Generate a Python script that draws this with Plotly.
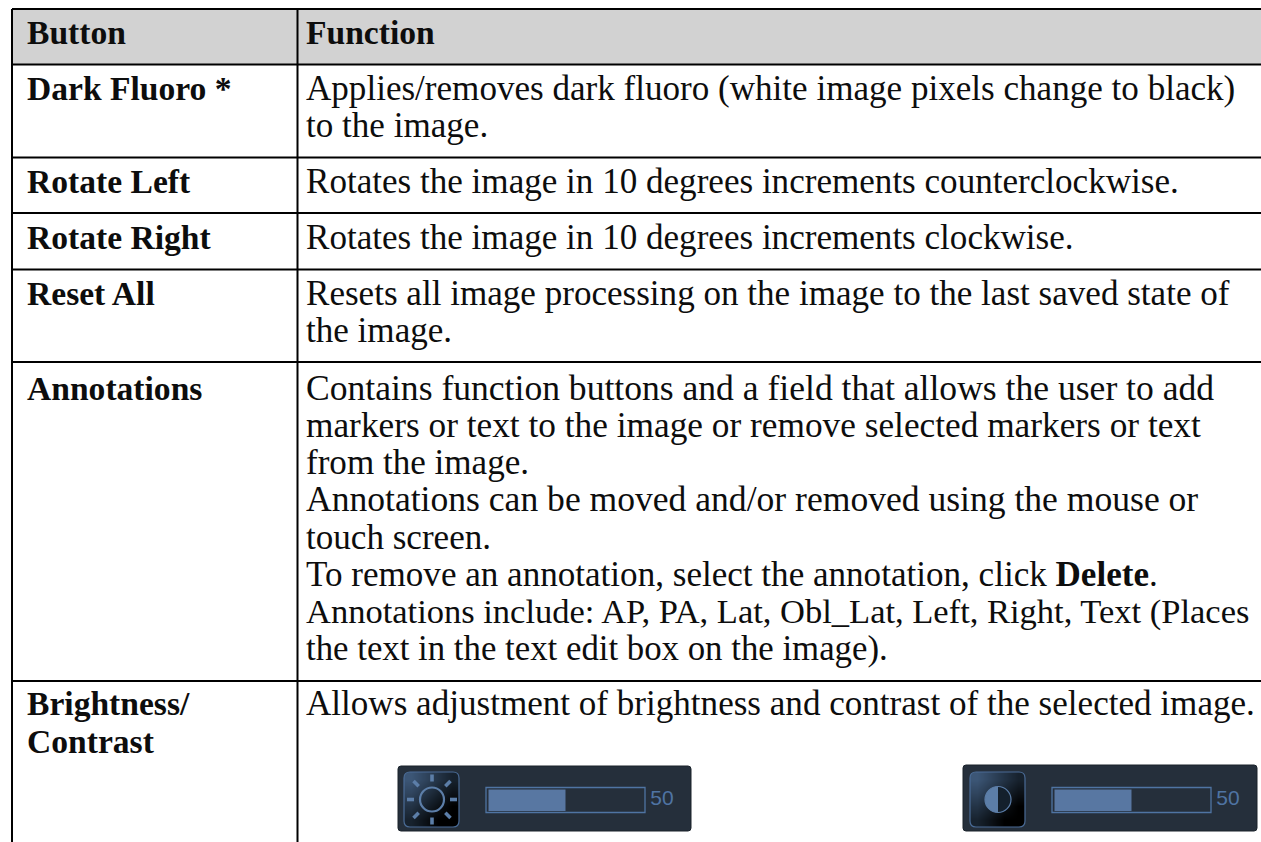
import plotly.graph_objects as go

# ---- table content ----
HEADERS = ["Button", "Function"]
BUTTONS = [["Dark Fluoro *"], ["Rotate Left"], ["Rotate Right"], ["Reset All"], ["Annotations"], ["Brightness/", "Contrast"]]
FUNCTIONS = [
    ["Applies/removes dark fluoro (white image pixels change to black)", "to the image."],
    ["Rotates the image in 10 degrees increments counterclockwise."],
    ["Rotates the image in 10 degrees increments clockwise."],
    ["Resets all image processing on the image to the last saved state of", "the image."],
    ["Contains function buttons and a field that allows the user to add",
     "markers or text to the image or remove selected markers or text",
     "from the image.",
     "Annotations can be moved and/or removed using the mouse or",
     "touch screen.",
     "To remove an annotation, select the annotation, click <b>Delete</b>.",
     "Annotations include: AP, PA, Lat, Obl_Lat, Left, Right, Text (Places",
     "the text in the text edit box on the image)."],
    ["Allows adjustment of brightness and contrast of the selected image."],
]
SLIDER_VALUES = [50, 50]

# ---- layout ----
W, H = 1261, 842
LEFT, COL, TOP = 12, 297.5, 9
RULES_Y = [64.5, 157.5, 213, 269.5, 362, 681]
BASELINES = [46, 101.3, 195, 250.7, 306.7, 401.7, 717]
LH = 37.15
X1, X2 = 27, 306
FONT = "'Liberation Serif',serif"
FS, FS_BOLD = 35.1, 33.6
# lines whose width in this substitute font needs a small correction
LINE_FS = {4: {0: 35.6, 1: 35.3, 3: 35.6, 6: 34.5, 7: 34.8}}
INK = "#0d0d0d"
PANELS = [
    dict(x0=398, x1=691, y0=766, y1=831, bx0=404, trk0=486, trk1=645, num=662),
    dict(x0=963, x1=1257, y0=765, y1=831, bx0=970, trk0=1052, trk1=1211, num=1228),
]
PANEL_C, BLUE, FILL, BTN_BORDER = "#252f3b", "#4f74a3", "#5877a2", "#4a6b96"
BASE_SHIFT = 0.3  # plotly places a middle-anchored text baseline 0.3 em below y


def rrect(x0, y0, x1, y1, r):
    return (f"M{x0+r},{y0} L{x1-r},{y0} Q{x1},{y0} {x1},{y0+r} L{x1},{y1-r} Q{x1},{y1} {x1-r},{y1} "
            f"L{x0+r},{y1} Q{x0},{y1} {x0},{y1-r} L{x0},{y0+r} Q{x0},{y0} {x0+r},{y0} Z")


shapes = [
    dict(type="rect", x0=LEFT, x1=W + 2, y0=TOP, y1=RULES_Y[0], fillcolor="#d2d2d2", line_width=0, layer="below"),
    dict(type="line", x0=LEFT, x1=W + 2, y0=TOP, y1=TOP, line=dict(color="black", width=2.2)),
    dict(type="line", x0=LEFT, x1=LEFT, y0=TOP, y1=H + 2, line=dict(color="black", width=2)),
    dict(type="line", x0=COL, x1=COL, y0=TOP, y1=H + 2, line=dict(color="black", width=2)),
]
for y in RULES_Y:
    shapes.append(dict(type="line", x0=LEFT, x1=W + 2, y0=y, y1=y, line=dict(color="black", width=2)))

fig = go.Figure()

# table text
bx, by, bt = [X1, X2], [BASELINES[0] - BASE_SHIFT * FS_BOLD] * 2, [f"<b>{h}</b>" for h in HEADERS]
xs, ys, txt, sizes = [], [], [], []
for i, (b, f) in enumerate(zip(BUTTONS, FUNCTIONS)):
    b0 = BASELINES[i + 1]
    for j, line in enumerate(b):
        bx.append(X1); by.append(b0 + j * 37.7 - BASE_SHIFT * FS_BOLD); bt.append(f"<b>{line}</b>")
    for j, line in enumerate(f):
        size = LINE_FS.get(i, {}).get(j, FS)
        xs.append(X2); ys.append(b0 + j * LH - BASE_SHIFT * size); txt.append(line); sizes.append(size)
fig.add_trace(go.Scatter(x=bx, y=by, text=bt, mode="text", textposition="middle right",
                         textfont=dict(family=FONT, size=FS_BOLD, color=INK), hoverinfo="skip", cliponaxis=False))
fig.add_trace(go.Scatter(x=xs, y=ys, text=txt, mode="text", textposition="middle right",
                         textfont=dict(family=FONT, size=sizes, color=INK), hoverinfo="skip", cliponaxis=False))

# slider widgets
for p, v in zip(PANELS, SLIDER_VALUES):
    shapes.append(dict(type="path", path=rrect(p["x0"], p["y0"], p["x1"], p["y1"], 3), fillcolor=PANEL_C,
                       line=dict(color="#1a222b", width=1), layer="below"))
    bx0, bx1, by0, by1 = p["bx0"], p["bx0"] + 55, 772, 827
    step = 55 / 4
    fig.add_trace(go.Heatmap(x=[bx0 + step * (k + .5) for k in range(4)], y=[by0 + step * (k + .5) for k in range(4)],
                             z=[[5, 4, 3, 2], [4, 3, 2, 1], [3, 2, 1, 0], [2, 1, 0, 0]], zsmooth="best", showscale=False,
                             colorscale=[[0, "#000000"], [0.4, "#17222e"], [1, "#3c5676"]], hoverinfo="skip"))
    r = 6
    for cxn, cyn, sx, sy in [(bx0, by0, 1, 1), (bx1, by0, -1, 1), (bx0, by1, 1, -1), (bx1, by1, -1, -1)]:
        shapes.append(dict(type="path", path=f"M{cxn},{cyn} L{cxn+sx*r},{cyn} Q{cxn},{cyn} {cxn},{cyn+sy*r} Z",
                           fillcolor=PANEL_C, line_width=0))
    shapes.append(dict(type="path", path=rrect(bx0, by0, bx1, by1, r), line=dict(color=BTN_BORDER, width=1.2),
                       fillcolor="rgba(0,0,0,0)"))
    t0, t1 = p["trk0"], p["trk1"]
    shapes.append(dict(type="rect", x0=t0, x1=t1, y0=787.5, y1=812.5, line=dict(color=BLUE, width=1.3),
                       fillcolor="rgba(0,0,0,0)"))
    inner0, inner1 = t0 + 2.5, t1 - 2.5
    shapes.append(dict(type="rect", x0=inner0, x1=inner0 + (inner1 - inner0) * v / 100, y0=789.5, y1=811,
                       fillcolor=FILL, line_width=0))
    fig.add_trace(go.Scatter(x=[p["num"]], y=[800], text=[str(v)], mode="text", textposition="middle center",
                             textfont=dict(family="'Liberation Sans',Arial,sans-serif", size=21, color=BLUE), hoverinfo="skip"))

# brightness icon
cx, cy = 432, 799.5
shapes.append(dict(type="circle", x0=cx - 12, x1=cx + 12, y0=cy - 12, y1=cy + 12, line=dict(color="#5c7ea8", width=2.2),
                   fillcolor="rgba(0,0,0,0)"))
for dx, dy in [(0, -1), (0, 1), (1, 0), (-1, 0), (.74, -.74), (-.74, -.74), (.74, .74), (-.74, .74)]:
    shapes.append(dict(type="line", x0=cx + dx * 18, y0=cy + dy * 18, x1=cx + dx * 25, y1=cy + dy * 25,
                       line=dict(color="#5c7ea8", width=3.6)))
# contrast icon
cx, cy = 998, 799.5
R = 13
K = R * 0.5523
shapes.append(dict(type="circle", x0=cx - R, x1=cx + R, y0=cy - R, y1=cy + R, line=dict(color="#5c7ea8", width=1.2),
                   fillcolor="#14202c"))
shapes.append(dict(type="path",
                   path=f"M{cx},{cy-R} C{cx-K},{cy-R} {cx-R},{cy-K} {cx-R},{cy} C{cx-R},{cy+K} {cx-K},{cy+R} {cx},{cy+R} Z",
                   fillcolor="#5c7ea8", line_width=0))

fig.update_layout(
    width=W, height=H, margin=dict(l=0, r=0, t=0, b=0), paper_bgcolor="white", plot_bgcolor="white",
    showlegend=False, shapes=shapes,
    xaxis=dict(range=[0, W], visible=False, fixedrange=True),
    yaxis=dict(range=[H, 0], visible=False, fixedrange=True),
)
fig.write_html("out.html", config=dict(displayModeBar=False),
               post_script="document.body.style.margin='0';document.documentElement.style.overflow='hidden';")
